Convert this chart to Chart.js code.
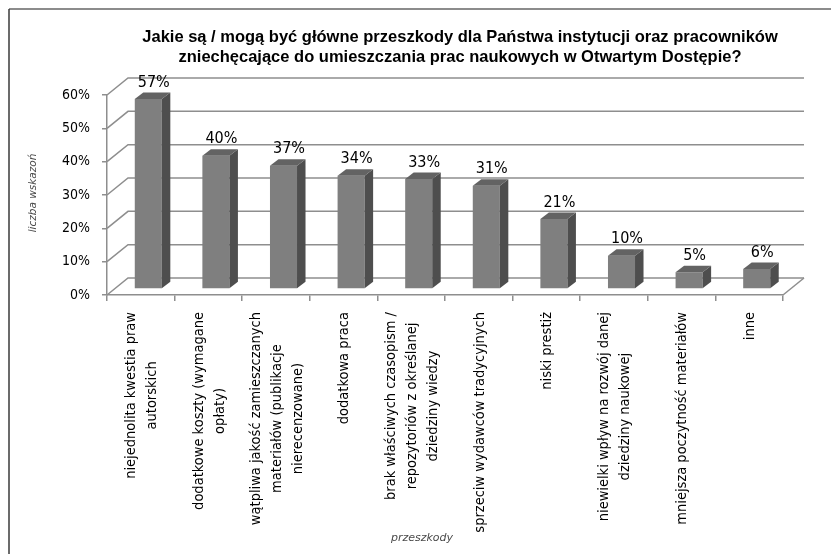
<!DOCTYPE html>
<html lang="pl">
<head>
<meta charset="utf-8">
<title>Przeszkody w Otwartym Dostępie</title>
<script src="https://cdn.jsdelivr.net/npm/chart.js@4.4.0/dist/chart.umd.min.js"></script>
<style>
    html, body { margin: 0; padding: 0; background: #fff; }
    canvas { display: block; }
</style>
</head>
<body>
<canvas id="przeszkodyChart" width="831" height="554"></canvas>
<script>
// dane wykresu
const tytul = [
    'Jakie są / mogą być główne przeszkody dla Państwa instytucji oraz pracowników',
    'zniechęcające do umieszczania prac naukowych w Otwartym Dostępie?'
];
const kategorie = [
    ['niejednolita kwestia praw', 'autorskich'],
    ['dodatkowe koszty (wymagane', 'opłaty)'],
    ['wątpliwa jakość zamieszczanych', 'materiałów (publikacje', 'nierecenzowane)'],
    ['dodatkowa praca'],
    ['brak właściwych czasopism /', 'repozytoriów z określanej', 'dziedziny wiedzy'],
    ['sprzeciw wydawców tradycyjnych'],
    ['niski prestiż'],
    ['niewielki wpływ na rozwój danej', 'dziedziny naukowej'],
    ['mniejsza poczytność materiałów'],
    ['inne']
];
const wartosci = [57, 40, 37, 34, 33, 31, 21, 10, 5, 6]; // procent wskazań
const osY = [0, 10, 20, 30, 40, 50, 60]; // podziałka osi Y
const tytulOsiY = 'liczba wskazoń';
const tytulOsiX = 'przeszkody';

const FONT = '"DejaVu Sans Condensed", "DejaVu Sans", sans-serif';
const GLEB = { dx: 21, dy: -17 };    // głębokość ścian (efekt 3D)
const SLUPEK = { dx: 8.5, dy: -6.5 }; // głębokość słupka
const PRZESUN = { dx: 7.5, dy: -6 };  // przesunięcie słupków w głąb

// wtyczka rysująca ściany, boki słupków i etykiety
const efekt3d = {
    id: 'efekt3d',
    beforeDraw(chart) {
        const ctx = chart.ctx;
        ctx.save();
        ctx.fillStyle = '#fff';
        ctx.fillRect(0, 0, chart.width, chart.height);
        // ramka
        ctx.strokeStyle = '#8c8c8c';
        ctx.lineWidth = 2;
        ctx.beginPath();
        ctx.moveTo(9, 9);
        ctx.lineTo(chart.width, 9);
        ctx.stroke();
        ctx.strokeStyle = '#3a3a3a';
        ctx.lineWidth = 1.5;
        ctx.beginPath();
        ctx.moveTo(9, 9);
        ctx.lineTo(9, chart.height);
        ctx.stroke();
        ctx.restore();
    },
    beforeDatasetsDraw(chart) {
        const { ctx, chartArea, scales } = chart;
        ctx.save();
        ctx.strokeStyle = '#8e8e8e';
        ctx.lineWidth = 1.5;
        osY.forEach(v => {
            const py = scales.y.getPixelForValue(v);
            ctx.beginPath();
            ctx.moveTo(chartArea.left, py);
            ctx.lineTo(chartArea.left + GLEB.dx, py + GLEB.dy);
            ctx.lineTo(chartArea.right + GLEB.dx, py + GLEB.dy);
            ctx.stroke();
        });
        // prawa krawędź podłogi
        ctx.beginPath();
        ctx.moveTo(chartArea.right, chartArea.bottom);
        ctx.lineTo(chartArea.right + GLEB.dx, chartArea.bottom + GLEB.dy);
        ctx.stroke();
        ctx.restore();

        ctx.save(); // słupki stoją w głębi podłogi
        ctx.translate(PRZESUN.dx, PRZESUN.dy);
    },
    afterDatasetsDraw(chart) {
        const ctx = chart.ctx;
        const meta = chart.getDatasetMeta(0);
        meta.data.forEach((bar, i) => {
            const { x, y, base, width } = bar.getProps(['x', 'y', 'base', 'width'], true);
            const l = x - width / 2;
            const r = x + width / 2;
            // bok
            ctx.fillStyle = '#4e4e4e';
            ctx.beginPath();
            ctx.moveTo(r, y);
            ctx.lineTo(r + SLUPEK.dx, y + SLUPEK.dy);
            ctx.lineTo(r + SLUPEK.dx, base + SLUPEK.dy);
            ctx.lineTo(r, base);
            ctx.closePath();
            ctx.fill();
            // góra
            ctx.fillStyle = '#636363';
            ctx.beginPath();
            ctx.moveTo(l, y);
            ctx.lineTo(l + SLUPEK.dx, y + SLUPEK.dy);
            ctx.lineTo(r + SLUPEK.dx, y + SLUPEK.dy);
            ctx.lineTo(r, y);
            ctx.closePath();
            ctx.fill();
            // etykieta wartości
            ctx.fillStyle = '#000';
            ctx.font = '16px ' + FONT;
            ctx.textAlign = 'center';
            ctx.textBaseline = 'alphabetic';
            ctx.fillText(wartosci[i] + '%', x + 5.5, y + SLUPEK.dy - 6);
        });
        ctx.restore();
    },
    afterDraw(chart) {
        const ctx = chart.ctx;
        const xScale = chart.scales.x;
        ctx.save();

        // tytuł
        ctx.fillStyle = '#000';
        ctx.font = 'bold 16.5px "Liberation Sans", Arial, sans-serif';
        ctx.textAlign = 'center';
        ctx.textBaseline = 'middle';
        tytul.forEach((linia, k) => ctx.fillText(linia, 460, 37 + k * 20));

        // etykiety kategorii, obrócone, linie wyśrodkowane
        ctx.font = '14.5px ' + FONT;
        kategorie.forEach((linie, i) => {
            const cx = xScale.getPixelForValue(i) + 1;
            const maxW = Math.max(...linie.map(t => ctx.measureText(t).width));
            ctx.save();
            ctx.translate(cx, 312);
            ctx.rotate(-Math.PI / 2);
            ctx.textAlign = 'center';
            ctx.textBaseline = 'middle';
            linie.forEach((t, k) => {
                ctx.fillText(t, -maxW / 2, (k - (linie.length - 1) / 2) * 21);
            });
            ctx.restore();
        });

        // tytuły osi
        ctx.fillStyle = '#4a4a4a';
        ctx.font = 'italic 11px "DejaVu Sans", sans-serif';
        ctx.textAlign = 'center';
        ctx.textBaseline = 'middle';
        ctx.fillText(tytulOsiX, 422, 538);
        ctx.save();
        ctx.translate(33, 193);
        ctx.rotate(-Math.PI / 2);
        ctx.font = 'italic 10.5px "DejaVu Sans", sans-serif';
        ctx.fillText(tytulOsiY, 0, 0);
        ctx.restore();

        ctx.restore();
    }
};

new Chart(document.getElementById('przeszkodyChart'), {
    type: 'bar',
    data: {
        labels: kategorie,
        datasets: [{
            data: wartosci,
            backgroundColor: '#7f7f7f',
            borderWidth: 0,
            barPercentage: 0.4,
            categoryPercentage: 1
        }]
    },
    options: {
        responsive: false,
        animation: false,
        devicePixelRatio: 1,
        layout: { padding: { top: 95, left: 0, right: 48, bottom: 0 } },
        plugins: {
            legend: { display: false },
            title: { display: false },
            tooltip: { enabled: false }
        },
        scales: {
            x: {
                offset: true,
                grid: { offset: true, drawOnChartArea: false, drawTicks: true, tickLength: 6, color: '#8e8e8e', lineWidth: 1.5 },
                border: { color: '#8e8e8e', width: 1.5 },
                ticks: { display: false },
                afterFit(scale) { scale.height = 259; }
            },
            y: {
                min: osY[0],
                max: osY[osY.length - 1],
                grid: { drawOnChartArea: false, drawTicks: true, tickLength: 5, color: '#8e8e8e', lineWidth: 1.5 },
                border: { color: '#8e8e8e', width: 1.5 },
                ticks: {
                    stepSize: osY[1] - osY[0],
                    padding: 12,
                    color: '#000',
                    font: { family: FONT, size: 14 },
                    callback: v => v + '%'
                },
                afterFit(scale) { scale.width = 107; }
            }
        }
    },
    plugins: [efekt3d]
});
</script>
</body>
</html>
